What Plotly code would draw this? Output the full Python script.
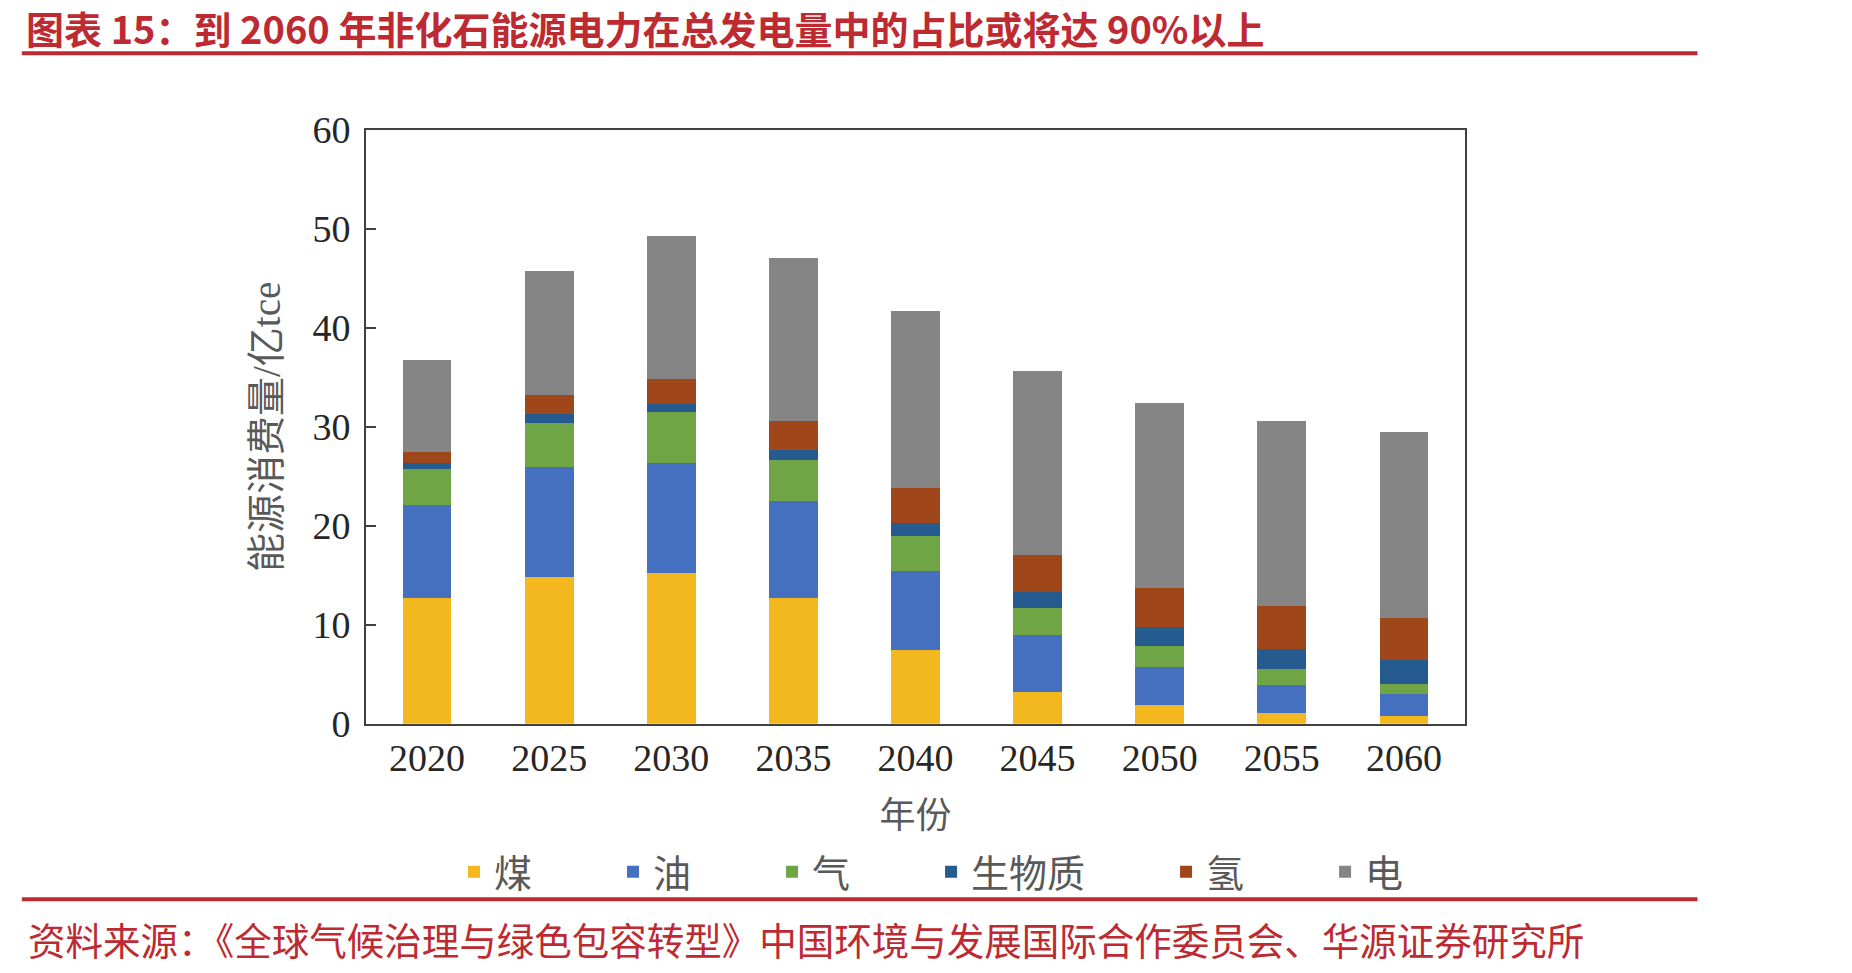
import plotly.graph_objects as go

# ---- data (亿tce) ----
years = ["2020", "2025", "2030", "2035", "2040", "2045", "2050", "2055", "2060"]
coal = [12.7, 14.8, 15.2, 12.7, 7.4, 3.2, 1.85, 1.1, 0.8]
oil = [9.4, 11.1, 11.1, 9.8, 8.0, 5.8, 3.9, 2.8, 2.2]
gas = [3.6, 4.5, 5.2, 4.2, 3.6, 2.7, 2.15, 1.6, 1.0]
biomass = [0.6, 0.9, 0.8, 1.0, 1.3, 1.6, 1.9, 2.1, 2.45]
hydrogen = [1.2, 1.9, 2.5, 2.9, 3.5, 3.8, 3.9, 4.3, 4.25]
electricity = [9.3, 12.6, 14.5, 16.5, 17.9, 18.5, 18.7, 18.7, 18.8]

series_names = ["煤", "油", "气", "生物质", "氢", "电"]
series_values = [coal, oil, gas, biomass, hydrogen, electricity]
series_colors = ["#F3B81E", "#4470BF", "#6FA544", "#255B8E", "#A0461B", "#858585"]

title_text = "图表 15：到 2060 年非化石能源电力在总发电量中的占比或将达 90%以上"
source_text = "资料来源：《全球气候治理与绿色包容转型》中国环境与发展国际合作委员会、华源证券研究所"

# ---- layout geometry (pixels) ----
W, H = 1852, 973
PL, PR, PT, PB = 366, 1464.6, 130, 725  # plot area
pw, ph = PR - PL, PB - PT


def px_x(x):
    return (x - PL) / pw


def px_y(y):
    return (PB - y) / ph


RED = "#BE2A31"
CJK = "Noto Sans CJK SC"

fig = go.Figure()
for name, vals, col in zip(series_names, series_values, series_colors):
    fig.add_trace(go.Bar(
        x=years, y=vals, name=name + "\u3000\u3000",
        marker=dict(color=col, line=dict(width=0)),
    ))

fig.update_layout(
    width=W, height=H,
    margin=dict(l=PL, r=W - PR, t=PT, b=H - PB),
    barmode="stack", bargap=0.6,
    plot_bgcolor="white", paper_bgcolor="white",
    title=dict(
        text=title_text, xref="container", yref="container",
        x=26 / W, xanchor="left", y=1 - 31 / H, yanchor="middle",
        font=dict(family=CJK, size=38, color=RED, weight="bold"),
    ),
    legend=dict(
        orientation="h", xref="container", yref="container",
        x=454 / W, xanchor="left", y=1 - 872 / H, yanchor="middle",
        font=dict(family=CJK, size=38, color="#595959"),
        traceorder="normal", bgcolor="rgba(0,0,0,0)",
    ),
    xaxis=dict(
        type="category", showline=True, mirror=True, linecolor="#404040",
        linewidth=2, ticks="", showgrid=False,
        tickfont=dict(family="Liberation Serif", size=38, color="#262626"),
        title=dict(text="年份", standoff=24,
                   font=dict(family=CJK, size=36, color="#595959")),
    ),
    yaxis=dict(
        range=[0, 60], dtick=10, showline=True, mirror=True,
        linecolor="#404040", linewidth=2, ticks="inside", ticklen=10,
        tickcolor="#404040", tickwidth=1.5, showgrid=False, zeroline=False,
        ticklabelstandoff=6,
        tickfont=dict(family="Liberation Serif", size=38, color="#262626"),
        title=dict(text="能源消费量/亿tce", standoff=20,
                   font=dict(family="Liberation Serif, " + CJK, size=39, color="#595959")),
    ),
    shapes=[
        dict(type="line", xref="paper", yref="paper",
             x0=px_x(22), x1=px_x(1697), y0=px_y(53), y1=px_y(53),
             line=dict(color=RED, width=4)),
        dict(type="line", xref="paper", yref="paper",
             x0=px_x(22), x1=px_x(1697), y0=px_y(901), y1=px_y(901),
             line=dict(color=RED, width=4)),
    ],
    annotations=[
        dict(text=source_text, xref="paper", yref="paper",
             x=px_x(26), y=px_y(940), xanchor="left", yanchor="middle",
             showarrow=False,
             font=dict(family=CJK, size=37.5, color=RED)),
    ],
)

fig.write_html("out.html")
